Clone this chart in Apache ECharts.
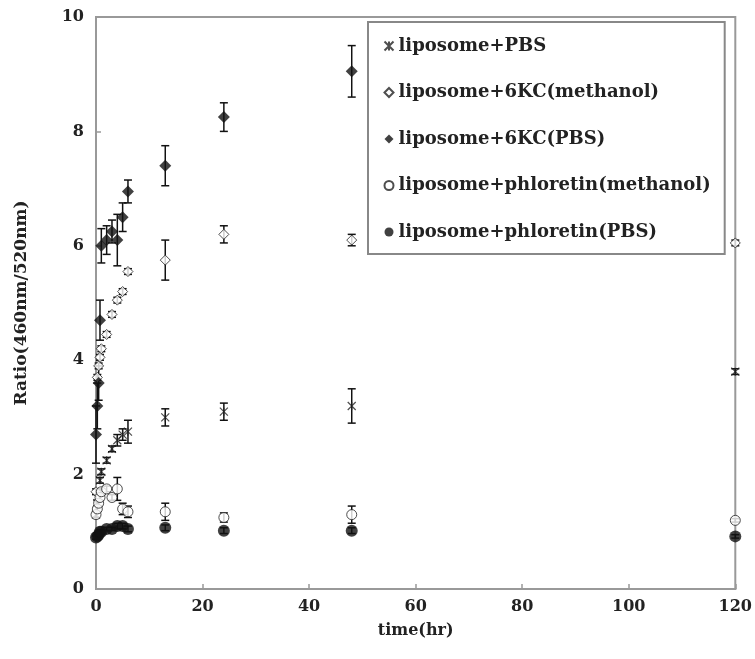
<!DOCTYPE html>
<html><head><meta charset="utf-8">
<script src="https://cdn.jsdelivr.net/npm/echarts@6/dist/echarts.min.js"></script>
<style>html,body{margin:0;padding:0;background:#fff}#c{width:755px;height:659px}</style>
</head><body><div id="c"></div>
<script>
// ---- data ----
const times = [0, 0.25, 0.5, 0.75, 1, 2, 3, 4, 5, 6, 13, 24, 48, 120];
const seriesNames = ['liposome+PBS', 'liposome+6KC(methanol)', 'liposome+6KC(PBS)', 'liposome+phloretin(methanol)', 'liposome+phloretin(PBS)'];
const valPBS      = [1.3, 1.5, 1.7, 1.9, 2.05, 2.25, 2.45, 2.6, 2.7, 2.75, 3.0, 3.1, 3.2, 3.8];
const errPBS      = [0.05, 0.05, 0.05, 0.05, 0.05, 0.05, 0.05, 0.1, 0.1, 0.2, 0.15, 0.15, 0.3, 0.05];
const val6KCMeOH  = [1.7, 3.7, 3.9, 4.05, 4.2, 4.45, 4.8, 5.05, 5.2, 5.55, 5.75, 6.2, 6.1, 6.05];
const err6KCMeOH  = [0.05, 0.05, 0.05, 0.05, 0.05, 0.05, 0.05, 0.05, 0.05, 0.05, 0.35, 0.15, 0.1, 0.05];
const val6KCPBS   = [2.7, 3.2, 3.6, 4.7, 6.0, 6.1, 6.25, 6.1, 6.5, 6.95, 7.4, 8.25, 9.05, null];
const err6KCPBS   = [0.5, 0.4, 0.3, 0.35, 0.3, 0.25, 0.2, 0.45, 0.25, 0.2, 0.35, 0.25, 0.45, null];
const valPhlMeOH  = [1.3, 1.4, 1.5, 1.6, 1.7, 1.75, 1.6, 1.75, 1.4, 1.35, 1.35, 1.25, 1.3, 1.2];
const errPhlMeOH  = [0.05, 0.05, 0.05, 0.05, 0.05, 0.05, 0.05, 0.2, 0.1, 0.1, 0.15, 0.08, 0.15, 0.03];
const valPhlPBS   = [0.9, 0.92, 0.95, 1.0, 1.0, 1.05, 1.05, 1.1, 1.1, 1.05, 1.07, 1.02, 1.02, 0.92];
const errPhlPBS   = [0.03, 0.03, 0.03, 0.03, 0.03, 0.03, 0.03, 0.05, 0.05, 0.05, 0.05, 0.05, 0.05, 0.03];
const xAxisName = 'time(hr)';
const yAxisName = 'Ratio(460nm/520nm)';

const FONT = "'DejaVu Serif', 'Liberation Serif', serif";
const asterisk = 'path://M0,0L10,10M10,0L0,10M5,0L5,10';

const values = [valPBS, val6KCMeOH, val6KCPBS, valPhlMeOH, valPhlPBS];
const errors = [errPBS, err6KCMeOH, err6KCPBS, errPhlMeOH, errPhlPBS];
const styles = [
  {symbol: asterisk, symbolSize: 8, itemStyle: {color: 'none', borderColor: '#222', borderWidth: 1.2}},
  {symbol: 'diamond', symbolSize: 10, itemStyle: {color: '#fff', borderColor: '#222', borderWidth: 1}},
  {symbol: 'diamond', symbolSize: 12, itemStyle: {color: '#111', borderColor: '#111', borderWidth: 0}},
  {symbol: 'circle', symbolSize: 10, itemStyle: {color: '#fff', borderColor: '#222', borderWidth: 1}},
  {symbol: 'circle', symbolSize: 12, itemStyle: {color: '#111', borderColor: '#111', borderWidth: 0}}
];

function errRender(params, api) {
  const x = api.value(0), y = api.value(1), e = api.value(2);
  if (y == null || isNaN(y) || !e) return;
  const top = api.coord([x, y + e]);
  const bot = api.coord([x, y - e]);
  const w = 4;
  const st = {stroke: '#111', lineWidth: 1.5};
  return {type: 'group', children: [
    {type: 'line', shape: {x1: top[0], y1: top[1], x2: bot[0], y2: bot[1]}, style: st},
    {type: 'line', shape: {x1: top[0] - w, y1: top[1], x2: top[0] + w, y2: top[1]}, style: st},
    {type: 'line', shape: {x1: bot[0] - w, y1: bot[1], x2: bot[0] + w, y2: bot[1]}, style: st}
  ]};
}

const series = [];
values.forEach((vals, i) => {
  series.push({
    name: 'err' + i, type: 'custom', renderItem: errRender, z: 1,
    encode: {x: 0, y: 1}, silent: true,
    data: times.map((t, k) => [t, vals[k], errors[i][k]]).filter(d => d[1] != null)
  });
});
values.forEach((vals, i) => {
  series.push(Object.assign({
    name: seriesNames[i], type: 'scatter', z: 3,
    data: times.map((t, k) => [t, vals[k]]).filter(d => d[1] != null)
  }, styles[i]));
});

const chart = echarts.init(document.getElementById('c'), null, {renderer: 'canvas'});
chart.setOption({
  animation: false,
  backgroundColor: '#fff',
  textStyle: {fontFamily: FONT},
  grid: {left: 96, right: 17, top: 17, bottom: 70, show: true, borderColor: '#999', borderWidth: 2, backgroundColor: 'transparent'},
  xAxis: {
    type: 'value', min: 0, max: 120, interval: 20,
    name: xAxisName, nameLocation: 'middle', nameGap: 34,
    nameTextStyle: {fontFamily: FONT, fontWeight: 'bold', fontSize: 16, color: '#222'},
    axisLine: {show: true, lineStyle: {color: '#999', width: 2}},
    axisTick: {show: true, inside: true, length: 5, lineStyle: {color: '#999', width: 1.5}},
    axisLabel: {fontFamily: FONT, fontWeight: 'bold', fontSize: 16, color: '#222', margin: 10},
    splitLine: {show: false}
  },
  yAxis: {
    type: 'value', min: 0, max: 10, interval: 2,
    name: yAxisName, nameLocation: 'middle', nameGap: 66, nameRotate: 90,
    nameTextStyle: {fontFamily: FONT, fontWeight: 'bold', fontSize: 17, color: '#222'},
    axisLine: {show: true, lineStyle: {color: '#999', width: 2}},
    axisTick: {show: true, inside: true, length: 5, lineStyle: {color: '#999', width: 1.5}},
    axisLabel: {fontFamily: FONT, fontWeight: 'bold', fontSize: 16, color: '#222', margin: 12},
    splitLine: {show: false}
  },
  legend: {
    data: seriesNames,
    orient: 'vertical', left: 368, top: 22,
    padding: [14, 14, 12, 14],
    itemGap: 26.5, itemWidth: 9, itemHeight: 9,
    backgroundColor: '#fff', borderColor: '#888', borderWidth: 2,
    textStyle: {fontFamily: FONT, fontWeight: 'bold', fontSize: 18, color: '#222', lineHeight: 20}
  },
  series: series
});
</script>
</body></html>
